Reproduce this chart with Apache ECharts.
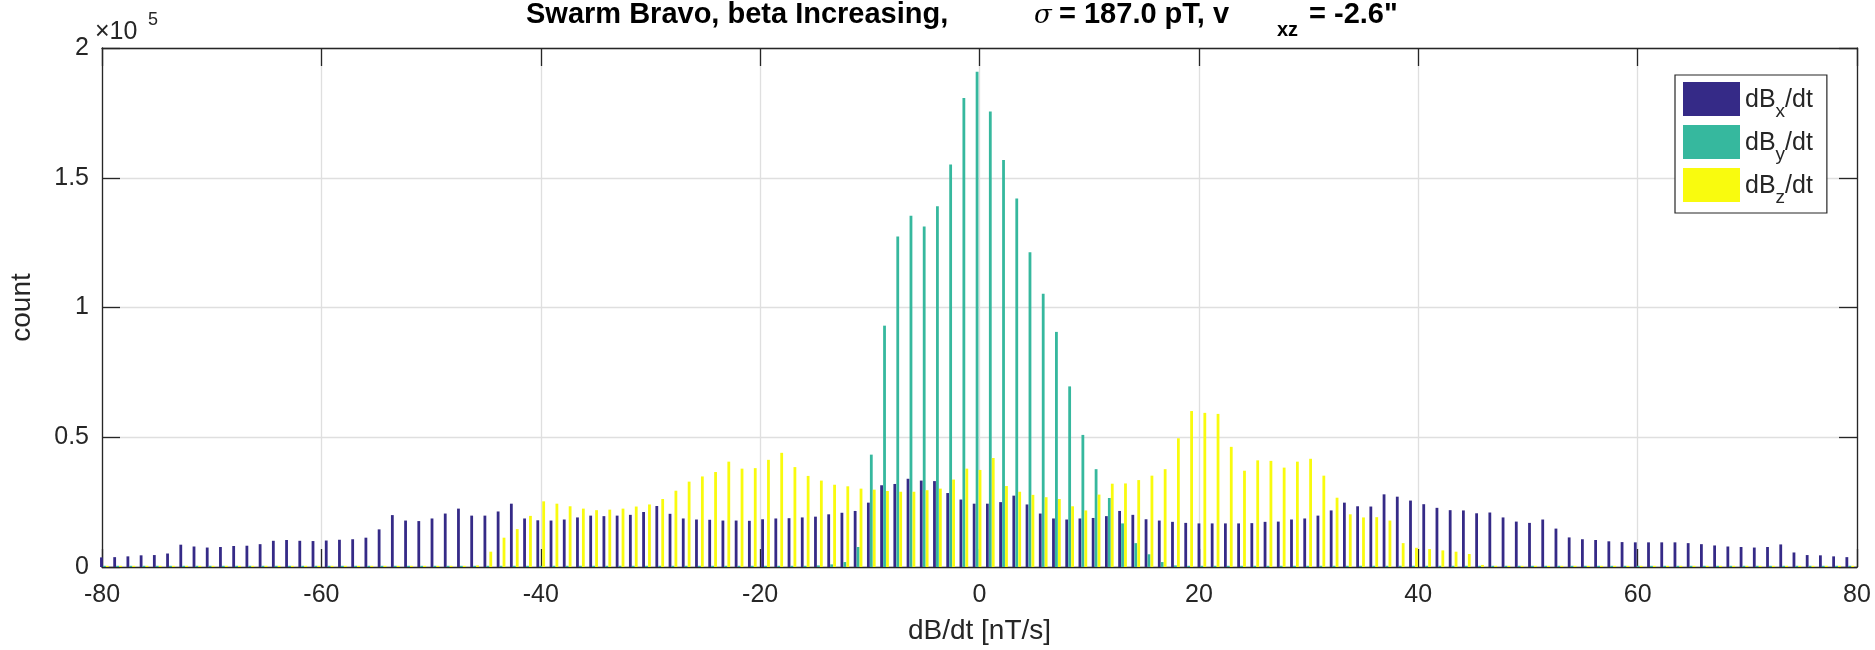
<!DOCTYPE html>
<html>
<head>
<meta charset="utf-8">
<script src="https://cdn.jsdelivr.net/npm/echarts@6/dist/echarts.min.js"></script>
<style>
html,body{margin:0;padding:0;background:#ffffff;}
#chart{width:1875px;height:650px;}
</style>
</head>
<body>
<div id="chart"></div>
<script>
// Histogram bins: centre of first bin and bin width (nT/s), 133 bins
const binFirstCentre = -79.783;
const binWidth = 1.2055;

// Counts in thousands, one value per bin (left to right)
const dBx = [
3.7,3.8,4.1,4.5,4.6,5.2,8.6,7.9,7.5,7.7,8.1,8.2,8.8,10.1,10.4,10.1,10.0,10.2,10.5,10.7,
11.3,14.5,20.0,17.9,17.7,18.7,20.6,22.5,19.8,19.8,21.4,24.4,18.7,18.0,
17.9,18.3,19.1,19.8,19.6,19.8,20.1,21.2,23.5,20.5,18.7,18.3,18.2,17.9,17.9,17.8,18.4,18.7,
18.8,19.1,19.4,20.3,20.9,21.6,24.8,31.5,32.0,34.0,33.3,33.1,28.5,26.0,24.4,
24.4,25.0,27.5,24.1,20.6,18.7,18.3,18.7,18.9,19.6,21.6,20.1,18.4,17.9,17.4,17.0,16.8,16.8,
16.8,16.8,16.9,17.4,17.5,18.3,18.7,19.8,21.8,24.8,23.4,23.3,28.0,27.1,25.6,
24.2,22.8,21.9,21.8,20.7,21.0,19.1,17.5,17.0,18.3,14.8,11.4,10.7,10.4,9.9,9.6,9.5,9.5,
9.5,9.5,9.2,8.8,8.3,7.9,7.7,7.5,7.7,8.7,5.6,4.6,4.5,4.1,3.8
];
const dBy = [
0,0,0,0,0,0,0,0,0,0, 0,0,0,0,0,0,0,0,0,0, 0,0,0,0,0,0,0,0,0,0,
0,0,0,0,0,0,0,0,0,0, 0,0,0,0,0,0,0,0,0,0, 0,0,0,
0.4,0.6,1.0,1.9,7.7,43.3,93.0,127.4,135.4,131.2,139.0,155.1,180.7,190.8,175.5,156.8,
142.0,121.3,105.3,90.6,69.6,50.9,37.7,26.6,16.8,9.2,4.9,1.9,0.6,
0,0,0,0,0,0,0,0,0,0, 0,0,0,0,0,0,0,0,0,0, 0,0,0,0,0,0,0,0,0,0,
0,0,0,0,0,0,0,0,0,0, 0,0,0,0,0,0,0,0,0,0, 0
];
const dBz = [
0,0,0,0,0,0,0,0,0,0, 0,0,0,0,0,0,0,0,0,0, 0,0,0,0,0,0,0,0,
0.6,5.9,11.3,14.6,19.7,25.3,24.4,23.4,22.5,21.9,22.1,22.5,23.3,24.1,26.2,29.4,32.9,34.9,
36.6,40.6,37.9,38.1,41.3,44.0,38.5,35.1,33.3,31.7,31.1,30.2,29.8,29.3,29.0,29.0,29.6,30.2,
33.7,37.9,37.4,
42.0,31.2,29.0,27.8,26.9,26.2,23.4,21.8,27.9,32.1,32.2,33.5,35.2,37.7,49.6,60.1,59.4,59.0,
46.3,37.1,41.1,40.9,38.3,40.6,41.7,35.2,26.7,20.3,19.1,19.2,17.9,9.2,7.4,6.9,6.4,5.9,5.0,0.8,
0,0,0,0,0,0,0,0,0,0, 0,0,0,0,0,0,0,0,0,0, 0,0,0,0,0,0,0,0
];
const seriesNames = ['dBx/dt', 'dBy/dt', 'dBz/dt'];
const seriesSubs = ['x', 'y', 'z'];
const seriesColors = ['#352A87', '#36B89E', '#F9FB0E'];
const xTicks = [-80, -60, -40, -20, 0, 20, 40, 60, 80];
const yTicks = [0, 0.5, 1, 1.5, 2]; // x 10^5

const FONT = '"Liberation Sans", Arial, Helvetica, sans-serif';
const AX = '#262626';

const centres = dBx.map((_, i) => +(binFirstCentre + i * binWidth).toFixed(4));
const toPairs = arr => arr.map((v, i) => [centres[i], v * 1000]);

const chart = echarts.init(document.getElementById('chart'), null, {renderer: 'canvas'});

const grid = {left: 91, right: 18, top: 48, bottom: 81, containLabel: false};

const option = {
  backgroundColor: '#ffffff',
  animation: false,
  grid: grid,
  legend: {
    show: true,
    orient: 'vertical',
    left: 1675, top: 75,
    padding: [7, 14, 6, 8],
    itemWidth: 57, itemHeight: 34, itemGap: 4,
    icon: 'rect',
    backgroundColor: '#ffffff',
    borderColor: AX, borderWidth: 1.2, borderRadius: 0,
    data: seriesNames,
    formatter: function (name) {
      const s = seriesSubs[seriesNames.indexOf(name)];
      return '{m|dB}{s|' + s + '}{m|/dt}';
    },
    textStyle: {
      color: AX, fontFamily: FONT, fontSize: 25,
      rich: {
        m: {fontSize: 25, lineHeight: 22, verticalAlign: 'top', fontFamily: FONT, color: AX},
        s: {fontSize: 19, lineHeight: 18, verticalAlign: 'top', padding: [14, 0, 0, 0], fontFamily: FONT, color: AX}
      }
    }
  },
  xAxis: [{
    type: 'value', min: xTicks[0], max: xTicks[xTicks.length - 1], interval: 20,
    position: 'bottom',
    name: 'dB/dt [nT/s]', nameLocation: 'middle', nameGap: 50,
    nameTextStyle: {fontFamily: FONT, fontSize: 28, color: AX},
    axisLine: {show: true, onZero: false, lineStyle: {color: AX, width: 1.3}},
    axisTick: {show: true, inside: true, length: 18, lineStyle: {color: AX, width: 1.3}},
    axisLabel: {show: true, margin: 16, fontFamily: FONT, fontSize: 25, color: AX},
    splitLine: {show: true, lineStyle: {color: '#dfdfdf', width: 1.3}}
  }, {
    type: 'value', min: xTicks[0], max: xTicks[xTicks.length - 1], interval: 20,
    position: 'top',
    axisLine: {show: true, onZero: false, lineStyle: {color: AX, width: 1.3}},
    axisTick: {show: true, inside: true, length: 18, lineStyle: {color: AX, width: 1.3}},
    axisLabel: {show: false},
    splitLine: {show: false}
  }],
  yAxis: [{
    type: 'value', min: 0, max: 200000, interval: 50000,
    position: 'left',
    name: 'count', nameLocation: 'middle', nameGap: 66,
    nameTextStyle: {fontFamily: FONT, fontSize: 28, color: AX},
    axisLine: {show: true, onZero: false, lineStyle: {color: AX, width: 1.3}},
    axisTick: {show: true, inside: true, length: 18, lineStyle: {color: AX, width: 1.3}},
    axisLabel: {show: true, margin: 13, fontFamily: FONT, fontSize: 25, color: AX,
      formatter: v => String(yTicks[Math.round(v / 50000)])},
    splitLine: {show: true, lineStyle: {color: '#dfdfdf', width: 1.3}}
  }, {
    type: 'value', min: 0, max: 200000, interval: 50000,
    position: 'right',
    axisLine: {show: true, onZero: false, lineStyle: {color: AX, width: 1.3}},
    axisTick: {show: true, inside: true, length: 18, lineStyle: {color: AX, width: 1.3}},
    axisLabel: {show: false},
    splitLine: {show: false}
  }],
  series: [
    {name: seriesNames[0], type: 'bar', xAxisIndex: 0, yAxisIndex: 0, data: toPairs(dBx),
     barWidth: 2.8, barGap: '5%', itemStyle: {color: seriesColors[0]}, emphasis: {disabled: true}},
    {name: seriesNames[1], type: 'bar', xAxisIndex: 0, yAxisIndex: 0, data: toPairs(dBy),
     barWidth: 2.8, barGap: '5%', barMinHeight: 1.2, itemStyle: {color: seriesColors[1]}, emphasis: {disabled: true}},
    {name: seriesNames[2], type: 'bar', xAxisIndex: 0, yAxisIndex: 0, data: toPairs(dBz),
     barWidth: 2.8, barGap: '5%', barMinHeight: 1.2, itemStyle: {color: seriesColors[2]}, emphasis: {disabled: true}}
  ],
  graphic: [
    {type: 'text', x: 526, y: 15, style: {text: 'Swarm Bravo, beta Increasing,', fontFamily: FONT, fontWeight: 'bold', fontSize: 29, fill: '#000', align: 'left', verticalAlign: 'middle'}},
    {type: 'text', x: 1034, y: 16, style: {text: 'σ', fontFamily: '"DejaVu Serif", serif', fontStyle: 'italic', fontSize: 26, fill: '#000', align: 'left', verticalAlign: 'middle'}},
    {type: 'text', x: 1059, y: 15, style: {text: '= 187.0 pT, v', fontFamily: FONT, fontWeight: 'bold', fontSize: 29, fill: '#000', align: 'left', verticalAlign: 'middle'}},
    {type: 'text', x: 1277, y: 30, style: {text: 'xz', fontFamily: FONT, fontWeight: 'bold', fontSize: 20, fill: '#000', align: 'left', verticalAlign: 'middle'}},
    {type: 'text', x: 1309, y: 15, style: {text: '= -2.6"', fontFamily: FONT, fontWeight: 'bold', fontSize: 29, fill: '#000', align: 'left', verticalAlign: 'middle'}},
    {type: 'text', x: 95, y: 32, style: {text: '×10', fontFamily: FONT, fontSize: 25, fill: AX, align: 'left', verticalAlign: 'middle'}},
    {type: 'text', x: 148, y: 20, style: {text: '5', fontFamily: FONT, fontSize: 18, fill: AX, align: 'left', verticalAlign: 'middle'}}
  ]
};
chart.setOption(option);
</script>
</body>
</html>
